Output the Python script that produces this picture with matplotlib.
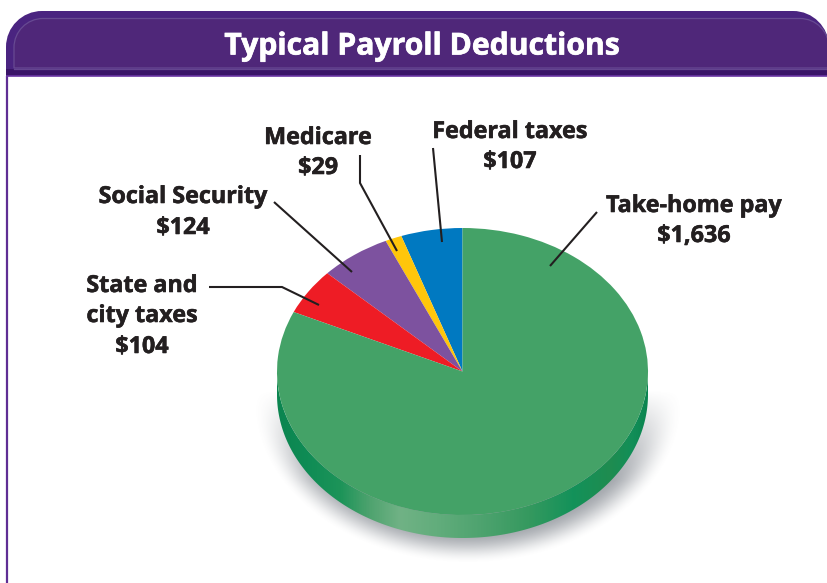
import numpy as np
import matplotlib
matplotlib.use("Agg")
import matplotlib.pyplot as plt
import matplotlib.patheffects as pe
from matplotlib.colors import LinearSegmentedColormap
from matplotlib.patches import PathPatch, Polygon
from matplotlib.path import Path

title = "Typical Payroll Deductions"
categories = ["Federal taxes", "Medicare", "Social Security", "State and city taxes", "Take-home pay"]
values = [107, 29, 124, 104, 1636]
value_labels = ["$107", "$29", "$124", "$104", "$1,636"]
colors = ["#0079C1", "#FFC60B", "#7D529F", "#EE1C25", "#44A267"]

W, H = 828, 583
CX, CY, RX, RY, DEPTH = 462.5, 371.5, 185.5, 143.5, 23
FONT = "Open Sans"
INK = "#231F20"

fig = plt.figure(figsize=(W / 100, H / 100), dpi=100, facecolor="white")
bg = fig.add_axes([0, 0, 1, 1], zorder=1)
bg.set_xlim(0, W)
bg.set_ylim(H, 0)
bg.axis("off")


def rounded_top(x0, y0, x1, y1, r):
    k = 0.5523 * r
    verts = [(x0, y1), (x0, y0 + r), (x0, y0 + r - k), (x0 + r - k, y0), (x0 + r, y0),
             (x1 - r, y0), (x1 - r + k, y0), (x1, y0 + r - k), (x1, y0 + r), (x1, y1), (x0, y1)]
    codes = [Path.MOVETO, Path.LINETO, Path.CURVE4, Path.CURVE4, Path.CURVE4,
             Path.LINETO, Path.CURVE4, Path.CURVE4, Path.CURVE4, Path.LINETO, Path.CLOSEPOLY]
    return Path(verts, codes)


# panel border and header
bg.plot([7.5, 7.5], [76, H], color="#5F2E94", lw=1.6, solid_capstyle="butt")
bg.add_patch(PathPatch(rounded_top(6, 11, 829, 76, 36), fc="#4A2480", ec="none"))
bg.add_patch(PathPatch(rounded_top(14, 18.5, 829, 68, 29), fc="#4F2779", ec="#674A92", lw=0.9))
bg.fill_between([6, 829], 69, 75.5, color="#3A1468", lw=0)
bg.plot([14, 829], [68.5, 68.5], color="#654590", lw=0.9)
bg.plot([6, 829], [76.2, 76.2], color="#6A35A3", lw=1.2, solid_capstyle="butt")
title_text = bg.text(422, 46.5, title, color="white", fontsize=21.7, fontweight="bold", family=FONT,
                     ha="center", va="center")
title_text.set_path_effects([pe.withStroke(linewidth=0.5, foreground="white")])

# soft shadow under the disc
yy, xx = np.mgrid[340:583, 240:700]
rr = np.sqrt(((xx - (CX + 5)) / RX) ** 2 + ((yy - (CY + 24)) / RY) ** 2)
dist = (rr - 1) * 165
fade = np.clip((dist + 8) / 36, 0, 1)
fade = 1 - fade * fade * (3 - 2 * fade)
shadow = np.zeros(xx.shape + (4,))
shadow[..., :3] = matplotlib.colors.to_rgb("#59606A")
shadow[..., 3] = 0.55 * fade * np.clip((yy - 390) / 90, 0, 1)
bg.imshow(shadow, extent=[240, 700, 583, 340], aspect="auto", zorder=1, interpolation="bilinear")
bg.set_xlim(0, W)
bg.set_ylim(H, 0)

# disc side with a horizontal sheen
t = np.linspace(0, np.pi, 200)
lower = np.c_[CX - RX * np.cos(t), CY + DEPTH + RY * np.sin(t)]
upper = np.c_[CX + RX * np.cos(t), CY + RY * np.sin(t)]
side = Polygon(np.r_[lower, upper], closed=True, fc="none", ec="none", transform=bg.transData)
bg.add_patch(side)
sheen = LinearSegmentedColormap.from_list("sheen", [
    (0.00, "#0B8550"), (0.08, "#0F8C55"), (0.17, "#1D9459"), (0.25, "#4FA36F"),
    (0.33, "#70B285"), (0.43, "#62AD7C"), (0.55, "#4EA36F"), (0.68, "#35995F"),
    (0.80, "#13925A"), (0.90, "#1F8C50"), (0.96, "#128F58"), (1.00, "#0B8550")])
grad = bg.imshow(np.linspace(0, 1, 400)[None, :], cmap=sheen, aspect="auto", zorder=2,
                 extent=[CX - RX, CX + RX, CY + RY + DEPTH, CY])
grad.set_clip_path(side)
bg.set_xlim(0, W)
bg.set_ylim(H, 0)

# top face of the pie
pie_ax = fig.add_axes([(CX - RX) / W, 1 - (CY + RY) / H, 2 * RX / W, 2 * RY / H], zorder=2)
pie_ax.pie(values, colors=colors, startangle=90, counterclock=True, radius=1,
           wedgeprops={"linewidth": 0})
pie_ax.set_aspect("auto")
pie_ax.set_xlim(-1, 1)
pie_ax.set_ylim(-1, 1)
pie_ax.patch.set_alpha(0)

# labels and leader lines on top
fg = fig.add_axes([0, 0, 1, 1], zorder=3)
fg.set_xlim(0, W)
fg.set_ylim(H, 0)
fg.axis("off")
fg.patch.set_alpha(0)

label_text = [
    (694, 206, categories[4]), (694, 236, value_labels[4]),
    (510, 132, categories[0]), (510, 162, value_labels[0]),
    (318, 138, categories[1]), (318, 168, value_labels[1]),
    (183, 197, categories[2]), (183, 228, value_labels[2]),
    (142, 286, "State and"), (142, 316, "city taxes"), (142, 347, value_labels[3]),
]
for x, y, s in label_text:
    label = fg.text(x, y, s, color=INK, fontsize=16.8, fontweight="bold", family=FONT, ha="center", va="center")
    label.set_path_effects([pe.withStroke(linewidth=0.4, foreground=INK)])

leaders = [
    ([597, 550], [212, 266]),
    ([433, 442], [148, 242]),
    ([360, 360, 397], [155, 183, 251]),
    ([274, 352], [202, 272]),
    ([209, 282, 319], [287, 287, 305]),
]
for xs, ys in leaders:
    fg.plot(xs, ys, color=INK, lw=1.5, solid_capstyle="butt", solid_joinstyle="miter")

fig.savefig("out.png", dpi=100)
